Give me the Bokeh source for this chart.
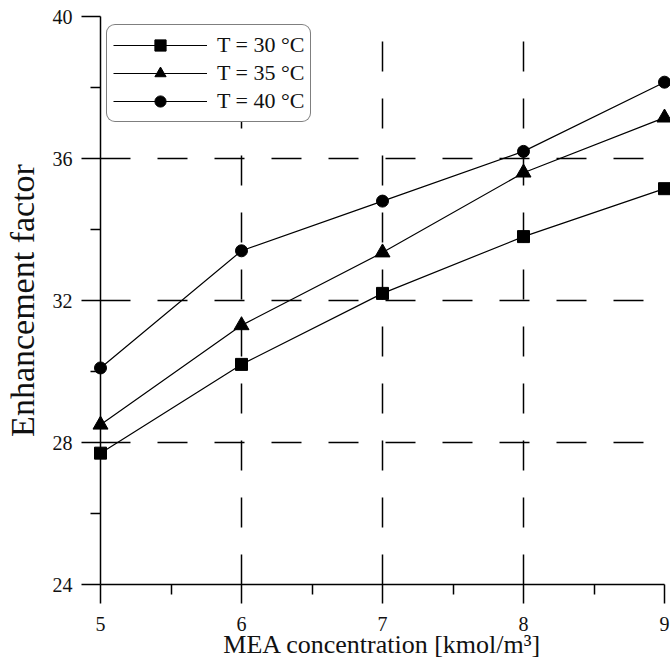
from bokeh.plotting import figure
from bokeh.models import FixedTicker, Legend, LegendItem, Range1d
from bokeh.embed import file_html
from bokeh.resources import INLINE

# ---- data ----
mea = [5, 6, 7, 8, 9]
t30 = [27.7, 30.2, 32.2, 33.8, 35.15]
t35 = [28.5, 31.3, 33.35, 35.6, 37.15]
t40 = [30.1, 33.4, 34.8, 36.2, 38.15]
series_labels = ["T = 30 °C", "T = 35 °C", "T = 40 °C"]
series_markers = ["square", "triangle", "circle"]
x_ticks = [5, 6, 7, 8, 9]
x_minor = [5.5, 6.5, 7.5, 8.5]
y_ticks = [24, 28, 32, 36, 40]
y_minor = [26, 30, 34, 38]

FONT = "Liberation Serif"

p = figure(width=670, height=664,
           x_range=Range1d(5, 9), y_range=Range1d(24, 40),
           output_backend="svg", toolbar_location=None,
           min_border_left=99, min_border_right=6,
           min_border_top=16, min_border_bottom=80)
p.outline_line_color = None
p.background_fill_color = "white"

# axes
p.xaxis.ticker = FixedTicker(ticks=x_ticks, minor_ticks=x_minor)
p.yaxis.ticker = FixedTicker(ticks=y_ticks, minor_ticks=y_minor)
for ax in (p.xaxis[0], p.yaxis[0]):
    ax.axis_line_color = "black"
    ax.axis_line_width = 1.5
    ax.major_tick_line_color = "black"
    ax.major_tick_line_width = 1.5
    ax.major_tick_out = 19
    ax.major_tick_in = 0
    ax.minor_tick_line_color = "black"
    ax.minor_tick_line_width = 1.5
    ax.minor_tick_out = 10
    ax.minor_tick_in = 0
    ax.major_label_text_font = FONT
    ax.major_label_text_font_size = "20px"
    ax.major_label_text_color = "#111111"
    ax.axis_label_text_font = FONT
    ax.axis_label_text_font_style = "normal"
    ax.axis_label_text_color = "#111111"

p.xaxis.axis_label = "MEA concentration [kmol/m³]"
p.xaxis.axis_label_text_font_size = "26px"
p.xaxis.major_label_standoff = 13
p.xaxis.axis_label_standoff = -4

p.yaxis.axis_label = "Enhancement factor"
p.yaxis.axis_label_text_font_size = "34px"
p.yaxis.major_label_standoff = 9
p.yaxis.axis_label_standoff = 9

# grid
for g in (p.xgrid[0], p.ygrid[0]):
    g.grid_line_color = "black"
    g.grid_line_width = 1.5
    g.grid_line_dash = "30 27"

items = []
for ys, lab, mk, sz in zip([t30, t35, t40], series_labels, series_markers, [12, 15, 12]):
    lr = p.line(mea, ys, line_color="black", line_width=1.2)
    sr = p.scatter(mea, ys, marker=mk, size=sz, fill_color="black",
                   line_color="black", level="overlay")
    items.append(LegendItem(label=lab, renderers=[lr, sr]))

legend = Legend(items=items, location=(6, 462), margin=0,
                padding=6, spacing=0, glyph_width=94, glyph_height=28,
                label_standoff=10, label_text_font=FONT,
                label_text_font_size="22px", label_text_color="#111111",
                border_line_color="black", border_line_width=1.3,
                background_fill_color="white", background_fill_alpha=1.0)
if "border_radius" in Legend.properties():
    legend.border_radius = 9
p.add_layout(legend)

open("out.html", "w").write(file_html(p, INLINE))
